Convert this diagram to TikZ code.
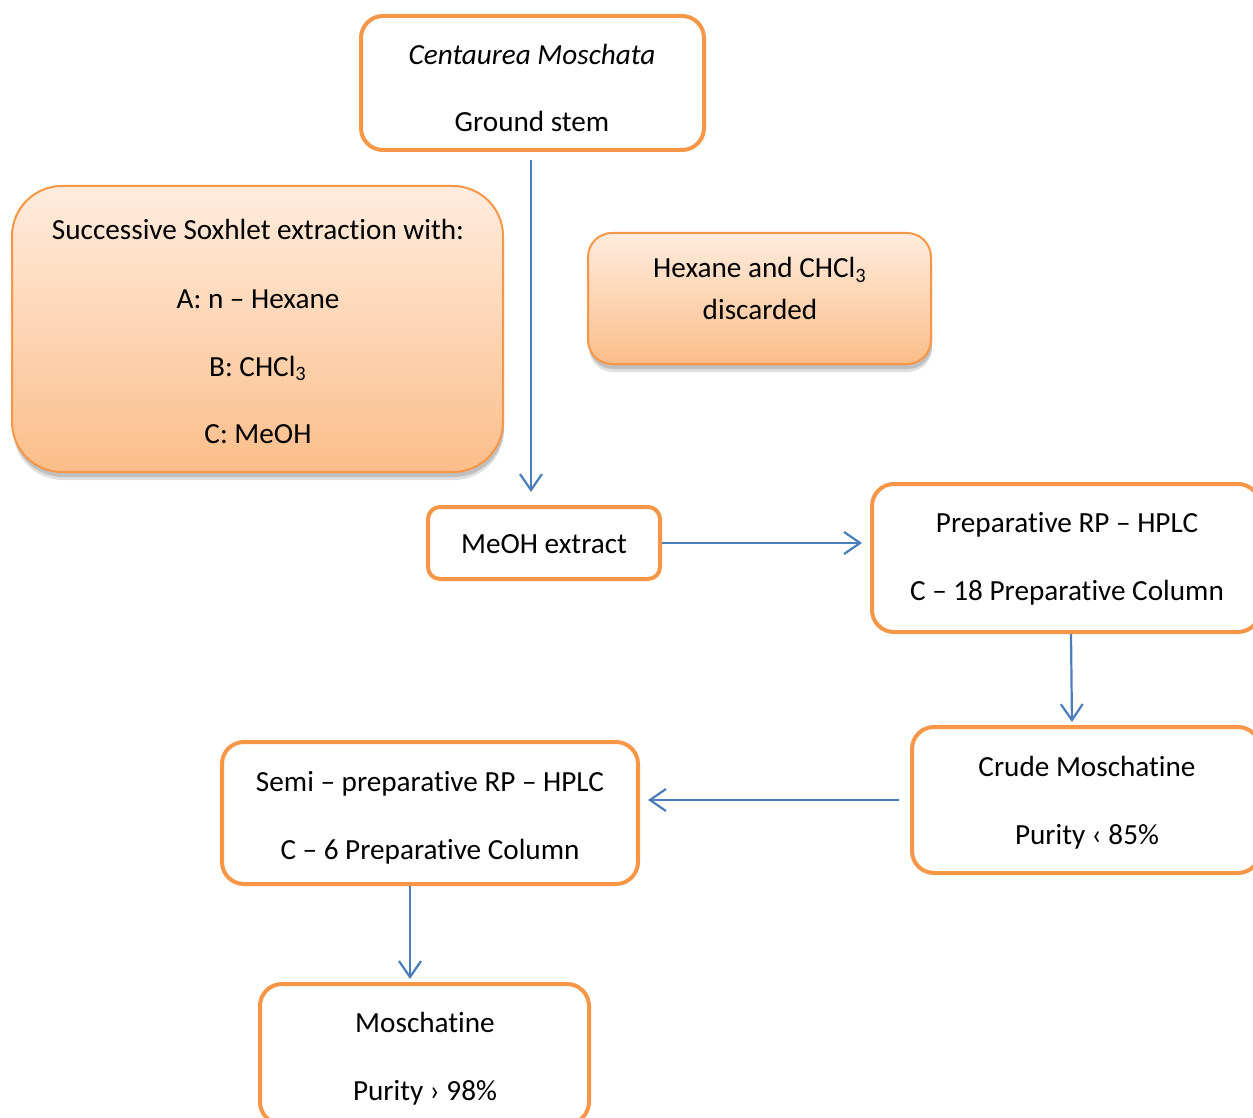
\documentclass[tikz,border=0pt]{standalone}
\usepackage{fontspec}
\setmainfont[Ligatures=NoCommon]{Carlito}
\usetikzlibrary{arrows.meta,shadows}
\definecolor{borange}{HTML}{F79646}
\definecolor{ablue}{HTML}{4A7EBB}
\definecolor{gtop}{RGB}{255,236,222}
\definecolor{gbot}{RGB}{251,190,138}
\tikzset{
  wbox/.style={draw=borange, line width=2pt, fill=white, rounded corners=11pt, inner sep=0pt},
  gbox/.style={draw=borange, line width=1pt, rounded corners=#1, inner sep=0pt,
    top color=gtop, bottom color=gbot,
    drop shadow={shadow xshift=0.5pt, shadow yshift=-4pt, opacity=0.12, fill=black},
    drop shadow={shadow xshift=0.5pt, shadow yshift=-2.5pt, opacity=0.15, fill=black}},
  txt/.style={anchor=base, inner sep=0pt, font=\fontsize{14.6}{17}\selectfont},
  arr/.style={draw=ablue, line width=1.1pt, -{Straight Barb[length=8pt,width=11pt,line width=1.1pt]}},
}
\begin{document}
\begin{tikzpicture}[x=0.5pt,y=-0.5pt]
\useasboundingbox (0,0) rectangle (1253,1118);
% boxes
\node[wbox, minimum width=171.5pt, minimum height=67pt] (b1) at (532.5,83) {};
\node[gbox=25pt, minimum width=245.5pt, minimum height=143pt] (b2) at (257.5,329) {};
\node[gbox=12pt, minimum width=171.5pt, minimum height=65.5pt] (b3) at (759.5,298.5) {};
\node[wbox, rounded corners=6pt, minimum width=116pt, minimum height=36pt] (b4) at (544,543) {};
\node[wbox, minimum width=194pt, minimum height=74pt] (b5) at (1066,558) {};
\node[wbox, minimum width=174pt, minimum height=73pt] (b6) at (1086,800) {};
\node[wbox, minimum width=208pt, minimum height=71pt] (b7) at (430,813) {};
\node[wbox, minimum width=164.5pt, minimum height=70pt] (b8) at (424.5,1054) {};
% texts
\node[txt] (t1a) at (532,65) {\itshape Centaurea Moschata};
\node[txt] (t1b) at (532,132) {Ground stem};
\node[txt] (t2a) at (258,240) {Successive Soxhlet extraction with:};
\node[txt] (t2b) at (258,308) {A: n – Hexane};
\node[txt] (t2c) at (258,376) {B: CHCl\textsubscript{3}};
\node[txt] (t2d) at (258,443) {C: MeOH};
\node[txt] (t3a) at (760,278) {Hexane and CHCl\textsubscript{3}};
\node[txt] (t3b) at (760,320) {discarded};
\node[txt] (t4) at (544,553) {MeOH extract};
\node[txt] (t5a) at (1067,532) {Preparative RP – HPLC};
\node[txt] (t5b) at (1067,600) {C – 18 Preparative Column};
\node[txt] (t6a) at (1087,776) {Crude Moschatine};
\node[txt] (t6b) at (1087,844) {Purity ‹ 85\%};
\node[txt] (t7a) at (430,791) {Semi – preparative RP – HPLC};
\node[txt] (t7b) at (430,859) {C – 6 Preparative Column};
\node[txt] (t8a) at (425,1032) {Moschatine};
\node[txt] (t8b) at (425,1100) {Purity › 98\%};
% arrows
\draw[arr, shorten >=6.5pt] ([xshift=-0.75pt,yshift=-4pt]b1.south) -- ([xshift=-0.75pt]b1.south |- b4.north);
\draw[arr, shorten >=4pt] (b4.east) -- (b4.east -| b5.west);
\draw[arr, shorten >=1.5pt] ([xshift=2.5pt]b5.south) -- ([xshift=3pt]b5.south |- b6.north);
\draw[arr, shorten >=4pt] ([xshift=-5.5pt]b6.west) -- (b6.west -| b7.east);
\draw[arr, shorten >=1.5pt] ([xshift=-10pt]b7.south) -- ([xshift=-10pt]b7.south |- b8.north);
\end{tikzpicture}
\end{document}
